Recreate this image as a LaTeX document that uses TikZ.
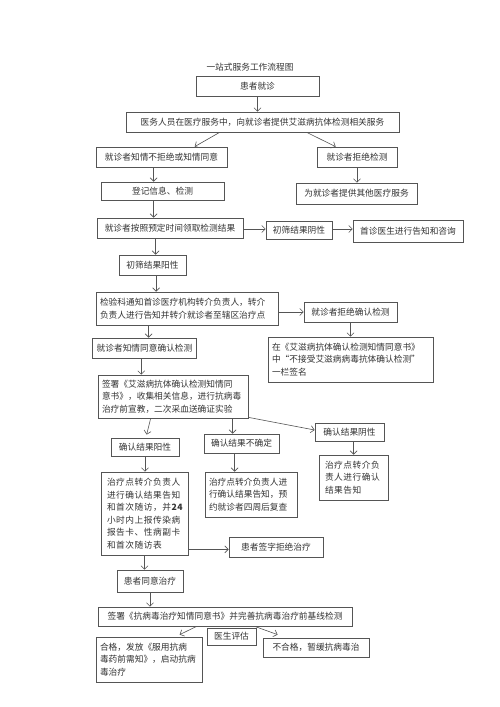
\documentclass[tikz,border=0pt]{standalone}
\usepackage{fontspec}
\setmainfont{Noto Sans CJK SC}
\newfontfamily\widecjk[LetterSpace=6]{Noto Sans CJK SC}
\usetikzlibrary{arrows.meta,calc}
\definecolor{ln}{HTML}{555555}
\definecolor{tx}{HTML}{333333}
\tikzset{
  box/.style={draw=ln,line width=0.7pt,inner xsep=4pt,inner ysep=0pt,text=tx,
    font=\fontsize{8.7}{12.5}\selectfont,anchor=center},
  mbox/.style={box,align=left},
  wbox/.style={box,align=left,inner xsep=6pt,font=\widecjk\fontsize{8.7}{12.5}\selectfont},
  arr/.style={draw=ln,line width=0.6pt,-{Straight Barb[length=3.5pt,width=7pt]}},
}
\begin{document}
\begin{tikzpicture}[x=1pt,y=1pt]
\useasboundingbox (0,0) rectangle (500,-707);
\fill[white] (0,0) rectangle (500,-707);

\node[text=tx,font=\fontsize{8.7}{10}\selectfont] (title) at (250,-67) {一站式服务工作流程图};

\node[box,minimum width=123,minimum height=20] (n1) at (257.5,-86) {患者就诊};
\node[box,minimum width=273,minimum height=20] (n2) at (262.5,-122) {医务人员在医疗服务中，向就诊者提供艾滋病抗体检测相关服务};
\node[box,minimum width=131,minimum height=20] (n3) at (161.5,-157) {就诊者知情不拒绝或知情同意};
\node[box,minimum width=80,minimum height=20] (n4) at (357,-157) {就诊者拒绝检测};
\node[box,minimum width=123,minimum height=18] (n5) at (162.5,-191) {登记信息、检测};
\node[box,minimum width=121,minimum height=21] (n6) at (356.5,-193.5) {为就诊者提供其他医疗服务};
\node[box,minimum width=146,minimum height=20] (n7) at (170,-228) {就诊者按照预定时间领取检测结果};
\node[box,minimum width=66,minimum height=18] (n8) at (299,-230) {初筛结果阴性};
\node[box,minimum width=110,minimum height=22] (n9) at (408,-231) {首诊医生进行告知和咨询};
\node[box,minimum width=67,minimum height=20] (n10) at (152.5,-265) {初筛结果阳性};
\node[mbox,text width=174pt,minimum height=33] (n11) at (187,-308.5) {检验科通知首诊医疗机构转介负责人，转介\\负责人进行告知并转介就诊者至辖区治疗点};
\node[box,minimum width=93,minimum height=20] (n12) at (350.5,-312) {就诊者拒绝确认检测};
\node[mbox,text width=157pt,minimum height=45] (n13) at (350.5,-359.5) {在《艾滋病抗体确认检测知情同意书》\\中“不接受艾滋病病毒抗体确认检测”\\一栏签名};
\node[box,minimum width=85,minimum height=20] (n14) at (144.5,-348) {就诊者知情同意确认检测};
\node[mbox,text width=142pt,minimum height=43] (n15) at (173,-396.5) {签署《艾滋病抗体确认检测知情同\\意书》，收集相关信息，进行抗病毒\\治疗前宣教，二次采血送确证实验};
\node[box,minimum width=68,minimum height=18] (n16) at (145,-447) {确认结果阳性};
\node[box,minimum width=75,minimum height=19] (n17) at (241.5,-443.5) {确认结果不确定};
\node[box,minimum width=69,minimum height=18] (n18) at (349.5,-432) {确认结果阴性};
\node[wbox,text width=57pt,minimum height=45] (n19) at (353.5,-477.5) {治疗点转介负\\责人进行确认\\结果告知};
\node[wbox,text width=75pt,minimum height=83] (n20) at (144.5,-513.5) {治疗点转介负责人\\进行确认结果告知\\和首次随访，并\textbf{24}\\小时内上报传染病\\报告卡、性病副卡\\和首次随访表};
\node[mbox,text width=84pt,minimum height=45] (n21) at (251,-494.5) {治疗点转介负责人进\\行确认结果告知，预\\约就诊者四周后复查};
\node[box,minimum width=94,minimum height=20] (n22) at (276,-547) {患者签字拒绝治疗};
\node[box,minimum width=66,minimum height=22] (n23) at (150,-581) {患者同意治疗};
\node[box,minimum width=254,minimum height=19] (n24) at (225,-616.5) {签署《抗病毒治疗知情同意书》并完善抗病毒治疗前基线检测};
\node[box,minimum width=49,minimum height=17] (n25) at (231.5,-636.5) {医生评估};
\node[mbox,text width=98pt,minimum height=45] (n26) at (149,-659.5) {合格，发放《服用抗病\\毒药前需知》，启动抗病\\毒治疗};
\node[box,minimum width=106,minimum height=19] (n27) at (316,-647.5) {不合格，暂缓抗病毒治};

% connectors
\draw[arr] (n1.south) -- (n1.south |- n2.north);
\draw[arr] ($(n2.south west)+(94,0)$) -- ($(n3.north west)+(99,0)$);
\draw[arr] ($(n2.south west)+(181,0)$) -- ($(n4.north west)+(19,0)$);
\draw[arr] ($(n3.south west)+(58,0)$) coordinate (c1) -- (c1 |- n5.north);
\draw[arr] (n4.south) -- (n4.south |- n6.north);
\draw[arr] ($(n5.south west)+(53,0)$) coordinate (c2) -- (c2 |- n7.north);
\draw[arr] ($(n7.east)+(0,-1)$) coordinate (c3) -- (c3 -| n8.west);
\draw[arr] ($(n8.east)+(0,1)$) coordinate (c4) -- (c4 -| n9.west);
\draw[arr] ($(n7.south west)+(59,0)$) coordinate (c5) -- (c5 |- n10.north);
\draw[arr] ($(n10.south west)+(37.5,0)$) coordinate (c6) -- (c6 |- n11.north);
\draw[arr] (n12.west -| n11.east) -- (n12.west);
\draw[arr] (n12.south) -- (n13.north);
\draw[arr] ($(n11.south west)+(53,0)$) coordinate (c7) -- (c7 |- n14.north);
\draw[arr] ($(n14.south west)+(49,0)$) coordinate (c8) -- (c8 |- n15.north);
\draw[arr] ($(n15.south west)+(53,0)$) -- ($(n16.north west)+(36,3)$);
\draw[arr] ($(n15.south west)+(135,0)$) coordinate (c9) -- (c9 |- n17.north);
\draw[arr] ($(n15.south east)+(0,1)$) -- ($(n18.west)+(0,2)$);
\draw[arr] ($(n18.south west)+(39,0)$) coordinate (c10) -- (c10 |- n19.north);
\draw[arr] (n16.south) -- (n16.south |- n20.north);
\draw[arr] ($(n17.south west)+(31,0)$) coordinate (c11) -- (c11 |- n21.north);
\draw[arr] ($(n20.south east)+(0,6)$) coordinate (c12) -- (c12 -| n22.west);
\draw[arr] (n20.south) -- (n20.south |- n23.north);
\draw[arr] (n23.south) -- (n23.south |- n24.north);
\draw[arr] ($(n24.south west)+(99,0)$) -- ($(n26.north west)+(84,2)$);
\draw[arr] ($(n24.south west)+(157,0)$) -- ($(n27.north west)+(15,3)$);
\end{tikzpicture}
\end{document}
